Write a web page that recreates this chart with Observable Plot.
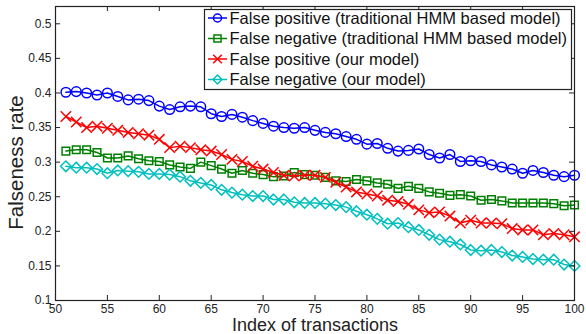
<!DOCTYPE html>
<html>
<head>
<meta charset="utf-8">
<script src="https://cdn.jsdelivr.net/npm/d3@7"></script>
<script src="https://cdn.jsdelivr.net/npm/@observablehq/plot@0.6"></script>
<style>
  html, body { margin: 0; padding: 0; background: #fff; }
  #chart { width: 586px; height: 334px; }
  svg { font-family: "Liberation Sans", Arial, sans-serif; }
</style>
</head>
<body>
<div id="chart"></div>
<script>
// ---- data ----
const transactionIndex = d3.range(51, 101);

const fpHMM = [0.401, 0.402, 0.400, 0.397, 0.400, 0.395, 0.390, 0.391, 0.389, 0.381,
               0.376, 0.380, 0.381, 0.380, 0.370, 0.366, 0.369, 0.365, 0.360, 0.356,
               0.352, 0.350, 0.349, 0.350, 0.346, 0.343, 0.341, 0.337, 0.333, 0.326,
               0.327, 0.320, 0.316, 0.317, 0.319, 0.311, 0.306, 0.311, 0.301, 0.302,
               0.301, 0.296, 0.293, 0.290, 0.284, 0.288, 0.285, 0.281, 0.279, 0.281];

const fnHMM = [0.316, 0.318, 0.318, 0.314, 0.306, 0.306, 0.309, 0.305, 0.302, 0.301,
               0.296, 0.293, 0.291, 0.300, 0.295, 0.290, 0.284, 0.288, 0.284, 0.282,
               0.279, 0.280, 0.285, 0.282, 0.281, 0.278, 0.273, 0.272, 0.275, 0.273,
               0.270, 0.268, 0.262, 0.265, 0.262, 0.257, 0.255, 0.252, 0.253, 0.251,
               0.245, 0.246, 0.244, 0.241, 0.241, 0.241, 0.241, 0.240, 0.237, 0.238];

const fpOurs = [0.366, 0.358, 0.350, 0.352, 0.349, 0.346, 0.343, 0.341, 0.339, 0.333,
                0.321, 0.323, 0.321, 0.318, 0.316, 0.311, 0.304, 0.301, 0.294, 0.290,
                0.285, 0.281, 0.280, 0.281, 0.281, 0.278, 0.271, 0.264, 0.257, 0.254,
                0.251, 0.245, 0.243, 0.239, 0.231, 0.227, 0.228, 0.222, 0.212, 0.216,
                0.212, 0.212, 0.211, 0.204, 0.202, 0.202, 0.195, 0.197, 0.195, 0.192];

const fnOurs = [0.294, 0.292, 0.292, 0.290, 0.284, 0.288, 0.287, 0.286, 0.283, 0.283,
                0.282, 0.279, 0.273, 0.270, 0.267, 0.260, 0.256, 0.253, 0.251, 0.251,
                0.246, 0.246, 0.242, 0.241, 0.241, 0.240, 0.238, 0.235, 0.229, 0.224,
                0.218, 0.211, 0.212, 0.206, 0.202, 0.195, 0.188, 0.185, 0.181, 0.173,
                0.172, 0.173, 0.170, 0.165, 0.163, 0.160, 0.159, 0.159, 0.152, 0.150];

const seriesNames = [
  "False positive (traditional HMM based model)",
  "False negative (traditional HMM based model)",
  "False positive (our model)",
  "False negative (our model)"
];
const seriesValues = [fpHMM, fnHMM, fpOurs, fnOurs];
const seriesColors = ["#0000ff", "#008000", "#ff0000", "#00bfbf"];
const seriesSymbols = ["circle", "square", "times", "diamond2"];

const xTicks = [50, 55, 60, 65, 70, 75, 80, 85, 90, 95, 100];
const yTicks = [0.1, 0.15, 0.2, 0.25, 0.3, 0.35, 0.4, 0.45, 0.5];
const yTickLabels = ["0.1", "0.15", "0.2", "0.25", "0.3", "0.35", "0.4", "0.45", "0.5"];

const xLabel = "Index of transactions";
const yLabel = "Falseness rate";

// ---- layout ----
const W = 586, H = 334;
const mL = 55, mR = 12, mT = 6, mB = 34;
const innerW = W - mL - mR, innerH = H - mT - mB;
const tickLen = 5;

const rows = [];
seriesValues.forEach((vals, s) => {
  vals.forEach((v, i) => rows.push({x: transactionIndex[i], y: v, s}));
});

const dataMarks = [];
seriesValues.forEach((vals, s) => {
  const d = rows.filter(r => r.s === s);
  dataMarks.push(Plot.line(d, {x: "x", y: "y", stroke: seriesColors[s], strokeWidth: 1.5}));
  dataMarks.push(Plot.dot(d, {
    x: "x", y: "y", symbol: () => seriesSymbols[s], r: s === 1 ? 4.3 : 4.8,
    stroke: seriesColors[s], fill: "none", strokeWidth: 1.5
  }));
});

const chart = Plot.plot({
  width: W, height: H,
  marginLeft: mL, marginRight: mR, marginTop: mT, marginBottom: mB,
  style: {fontFamily: '"Liberation Sans", Arial, sans-serif', background: "#fff", color: "#222"},
  x: {domain: [50, 100]},
  y: {domain: [0.1, 0.525]},
  symbol: {type: "identity"},
  marks: [
    ...dataMarks,
    Plot.tickX(xTicks, {x: d => d, insetTop: innerH - tickLen, stroke: "#222"}),
    Plot.tickX(xTicks, {x: d => d, insetBottom: innerH - tickLen, stroke: "#222"}),
    Plot.tickY(yTicks, {y: d => d, insetRight: innerW - tickLen, stroke: "#222"}),
    Plot.tickY(yTicks, {y: d => d, insetLeft: innerW - tickLen, stroke: "#222"}),
    Plot.frame({stroke: "#222", strokeWidth: 1.2}),
    Plot.axisX({ticks: xTicks, tickSize: 0, tickPadding: 4, fontSize: 12, label: null}),
    Plot.axisY({ticks: yTicks, tickSize: 0, tickPadding: 4, fontSize: 12, label: null,
      tickFormat: d => yTickLabels[yTicks.indexOf(d)]}),
    Plot.text([xLabel], {frameAnchor: "bottom", text: d => d, dy: 25, lineAnchor: "middle", textAnchor: "middle", fontSize: 18, fill: "#222"}),
    Plot.text([yLabel], {frameAnchor: "left", text: d => d, rotate: -90, dx: -39, dy: 9, lineAnchor: "middle", textAnchor: "middle", fontSize: 20.5, fill: "#222"})
  ]
});

// ---- legend (inside the axes, top-right) ----
const svg = d3.select(chart);
const lg = svg.append("g").attr("font-family", '"Liberation Sans", Arial, sans-serif').attr("text-anchor", "start");
lg.append("rect")
  .attr("x", 204.5).attr("y", 9.5).attr("width", 367).attr("height", 80)
  .attr("fill", "#fff").attr("stroke", "#222").attr("stroke-width", 1.2);
const symMap = {circle: d3.symbolCircle, square: d3.symbolSquare, times: d3.symbolTimes, diamond2: d3.symbolDiamond2};
seriesNames.forEach((name, s) => {
  const cy = 18 + s * 20.5;
  lg.append("line").attr("x1", 208).attr("x2", 227).attr("y1", cy).attr("y2", cy)
    .attr("stroke", seriesColors[s]).attr("stroke-width", 1.5);
  lg.append("path")
    .attr("d", d3.symbol(symMap[seriesSymbols[s]], Math.PI * 4 * 4)())
    .attr("transform", `translate(217.5,${cy})`)
    .attr("fill", "none").attr("stroke", seriesColors[s]).attr("stroke-width", 1.5);
  lg.append("text").attr("x", 229.5).attr("y", cy).attr("dy", "0.36em")
    .attr("text-anchor", "start")
    .attr("font-size", 16.5).attr("fill", "#111").text(name);
});

document.getElementById("chart").appendChild(chart);
</script>
</body>
</html>
